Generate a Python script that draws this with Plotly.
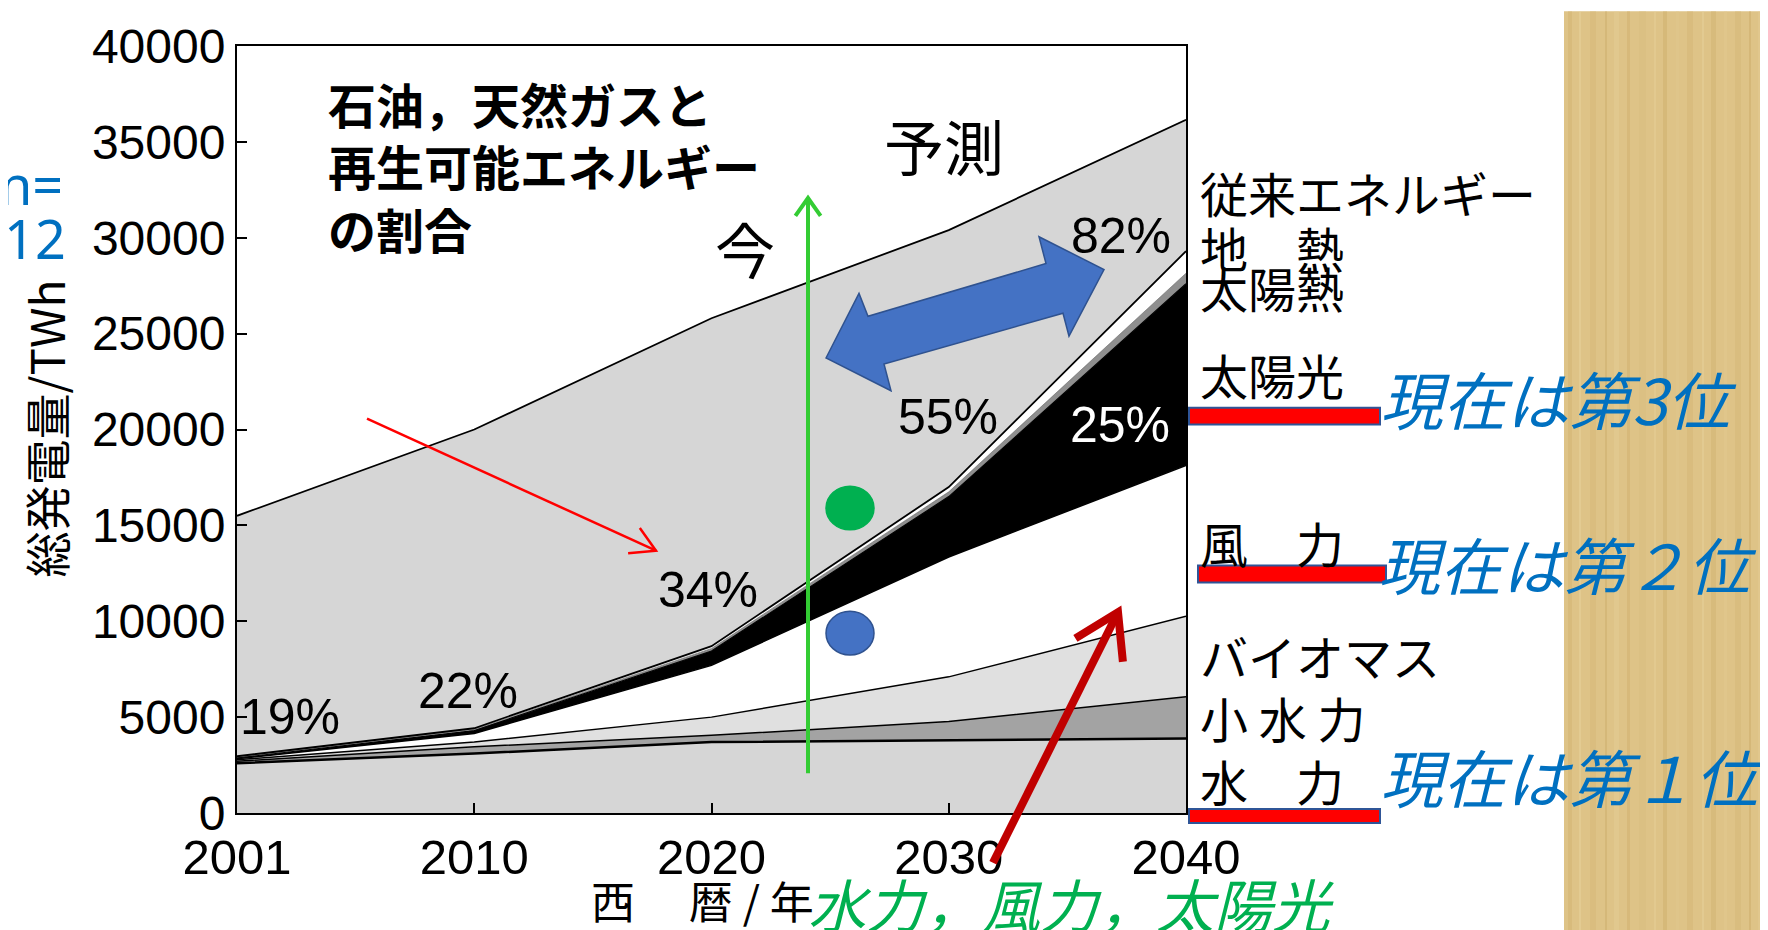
import math
import plotly.graph_objects as go

# ---------------- data (TWh) ----------------
years = ["2001", "2010", "2020", "2030", "2040"]
hydro = [2600, 3100, 3700, 3780, 3890]
small_hydro = [100, 350, 350, 990, 2170]
biomass = [80, 250, 950, 2330, 4200]
wind = [50, 450, 2700, 6250, 7870]
solar_pv = [40, 150, 750, 3150, 9470]
solar_thermal = [50, 60, 130, 250, 550]
geothermal = [40, 60, 120, 250, 1150]
conventional = [12540, 15580, 17100, 13400, 6850]

series_names = ["水　力", "小 水 力", "バイオマス", "風　力", "太陽光", "太陽熱", "地　熱", "従来エネルギー"]
share_labels = ["19%", "22%", "34%", "55%", "82%"]
pv_share_label = "25%"
y_ticks = [0, 5000, 10000, 15000, 20000, 25000, 30000, 35000, 40000]

# ---------------- layout helpers ----------------
W, H = 1768, 930
L, R, T, B = 229, 1178, 33, 805


def px(x):
    return (x - L) / (R - L)


def py(y):
    return (B - y) / (B - T)


CJK = "Noto Sans CJK JP"
LAT = "Liberation Sans"

fig = go.Figure()

styles = [
    ("#d6d6d6", "black", 2.5),   # hydro
    ("#a3a3a3", "black", 1.5),   # small hydro
    ("#e0e0e0", "black", 1.5),   # biomass
    ("#ffffff", "black", 1.5),   # wind
    ("#000000", "black", 1.2),   # solar pv
    ("#8f8f8f", "#555555", 0.6), # solar thermal
    ("#ffffff", "black", 1.8),   # geothermal
    ("#d6d6d6", "black", 1.8),   # conventional
]
values = [hydro, small_hydro, biomass, wind, solar_pv, solar_thermal, geothermal, conventional]
for name, vals, (fc, lc, lw) in zip(series_names, values, styles):
    fig.add_trace(go.Scatter(
        x=years, y=vals, name=name, mode="lines", stackgroup="one",
        fillcolor=fc, line=dict(color=lc, width=lw),
        hoverinfo="x+y+name", showlegend=False,
    ))

shapes = []
annotations = []

# wood texture panel on the right
shapes.append(dict(type="rect", xref="paper", yref="paper", x0=px(1556), x1=px(1772),
                   y0=py(H + 2), y1=py(-2), fillcolor="#dec387", line=dict(width=0), layer="below"))
wood_stripes = [(1560, 4, "#cfae6c"), (1571, 2, "#ead6a2"), (1582, 6, "#d4b574"), (1597, 2, "#c9a763"),
                (1606, 5, "#e6cf98"), (1619, 3, "#ccaa67"), (1631, 7, "#d8bb7c"), (1646, 2, "#e8d29c"),
                (1655, 4, "#cba964"), (1668, 3, "#e2c88e"), (1679, 6, "#d1b170"), (1694, 2, "#e9d4a0"),
                (1703, 5, "#ceae6b"), (1716, 3, "#e4cb92"), (1727, 6, "#d3b373"), (1741, 2, "#c8a662"),
                (1750, 5, "#e5cd95"), (1761, 3, "#d0b06e")]
for x0, w, c in wood_stripes:
    shapes.append(dict(type="rect", xref="paper", yref="paper", x0=px(x0), x1=px(x0 + w),
                       y0=py(H + 2), y1=py(-2), fillcolor=c, opacity=0.4, line=dict(width=0), layer="below"))


def chevron_arrow(tail, tip, color, width, arm, ang=32):
    (x1, y1), (x2, y2) = tail, tip
    a = math.atan2(y1 - y2, x1 - x2)
    pts = []
    for s in (-1, 1):
        b = a + s * math.radians(ang)
        pts.append((x2 + arm * math.cos(b), y2 + arm * math.sin(b)))
    shapes.append(dict(type="line", xref="paper", yref="paper", x0=px(x1), y0=py(y1), x1=px(x2), y1=py(y2),
                       line=dict(color=color, width=width)))
    path = "M {:.5f},{:.5f} L {:.5f},{:.5f} L {:.5f},{:.5f}".format(
        px(pts[0][0]), py(pts[0][1]), px(x2), py(y2), px(pts[1][0]), py(pts[1][1]))
    shapes.append(dict(type="path", xref="paper", yref="paper", path=path,
                       line=dict(color=color, width=width)))


# green "now" arrow
chevron_arrow((800, 765), (800, 186), "#33cc33", 4, 22, 35)
# thin red arrow
chevron_arrow((359, 408), (648, 541), "#ff0000", 2.5, 28, 30)
# dark red arrow
chevron_arrow((985, 855), (1110, 603), "#c00000", 8, 50, 32)

# blue double arrow
dbl = [(818, 347), (851, 282), (860, 305), (1038, 252), (1031, 225), (1096, 258),
       (1061, 325), (1055, 302), (876, 353), (883, 380)]
path = "M " + " L ".join("{:.5f},{:.5f}".format(px(x), py(y)) for x, y in dbl) + " Z"
shapes.append(dict(type="path", xref="paper", yref="paper", path=path,
                   fillcolor="#4472c4", line=dict(color="#2f528f", width=1.5)))

# circles
for cy, fc, lc in [(498, "#00b050", "#00b050"), (624, "#4472c4", "#2f528f")]:
    shapes.append(dict(type="circle", xref="paper", yref="paper", x0=px(818), x1=px(866),
                       y0=py(cy + 22), y1=py(cy - 22), fillcolor=fc, line=dict(color=lc, width=1.5)))

# red bars
for x0, x1, y0, y1 in [(1181, 1372, 397, 414), (1190, 1378, 556, 573), (1181, 1372, 801, 815)]:
    shapes.append(dict(type="rect", xref="paper", yref="paper", x0=px(x0), x1=px(x1),
                       y0=py(y1), y1=py(y0), fillcolor="#ff0000", line=dict(color="#2f5597", width=2)))


def txt(x, y, s, size, color="black", family=CJK, xanchor="center", yanchor="middle", angle=0):
    annotations.append(dict(x=px(x), y=py(y), xref="paper", yref="paper", text=s, showarrow=False,
                            xanchor=xanchor, yanchor=yanchor, textangle=angle,
                            font=dict(family=family, size=size, color=color), align="left"))


# percent labels
pct_pos = [(282, 708), (460, 682), (700, 581), (940, 406), (1113, 224)]
for (x, y), s in zip(pct_pos, share_labels):
    txt(x, y, s, 50, family=LAT)
txt(1112, 414, pv_share_label, 50, color="white", family=LAT)

# title block
txt(318, 153, "<b>石油，天然ガスと<br>再生可能エネルギー<br>の割合</b>", 48, xanchor="left")
txt(936, 132, "予測", 60)
txt(737, 236, "今", 60)

# right-hand series labels
right_labels = [(180, series_names[7]), (235, series_names[6]), (276, series_names[5]), (363, series_names[4]),
                (532, series_names[3]), (646, series_names[2]), (708, series_names[1]), (772, series_names[0])]
for y, s in right_labels:
    txt(1190, y, s, 48, xanchor="left")

# blue notes
txt(1370, 387, "<i>現在は第3位</i>", 63, color="#0070c0", xanchor="left")
txt(1368, 553, "<i>現在は第２位</i>", 62, color="#0070c0", xanchor="left")
txt(1370, 767, "<i>現在は第１位</i>", 63, color="#0070c0", xanchor="left")

# axis titles
txt(37, 418, "総発電量/TWh", 46, angle=-90)
txt(581, 893, "西　 暦 / 年", 44, xanchor="left")
txt(798, 896, "<i>水力，風力，太陽光</i>", 58, color="#00b050", xanchor="left")

# n= 12 (partly cut off at the left edge)
txt(57, 172, "n=", 54, color="#0070c0", family="Noto Sans", xanchor="right")
txt(60, 226, "12", 54, color="#0070c0", family="Noto Sans", xanchor="right")

fig.update_layout(
    width=W, height=H, autosize=False,
    margin=dict(l=L, r=W - R, t=T, b=H - B, pad=0),
    paper_bgcolor="white", plot_bgcolor="white",
    showlegend=False,
    shapes=shapes, annotations=annotations,
    xaxis=dict(type="category", categoryorder="array", categoryarray=years, range=[0, 4],
               showgrid=False, zeroline=False, showline=True, mirror=True, linecolor="black", linewidth=2,
               ticks="inside", ticklen=10, tickwidth=1.5, tickcolor="black",
               tickfont=dict(family=LAT, size=49, color="black")),
    yaxis=dict(range=[0, 40000], tickvals=y_ticks, ticktext=[str(v) for v in y_ticks],
               showgrid=False, zeroline=False, showline=True, mirror=True, linecolor="black", linewidth=2,
               ticks="inside", ticklen=10, tickwidth=1.5, tickcolor="black",
               tickfont=dict(family=LAT, size=48, color="black")),
)

fig.write_html("out.html")
